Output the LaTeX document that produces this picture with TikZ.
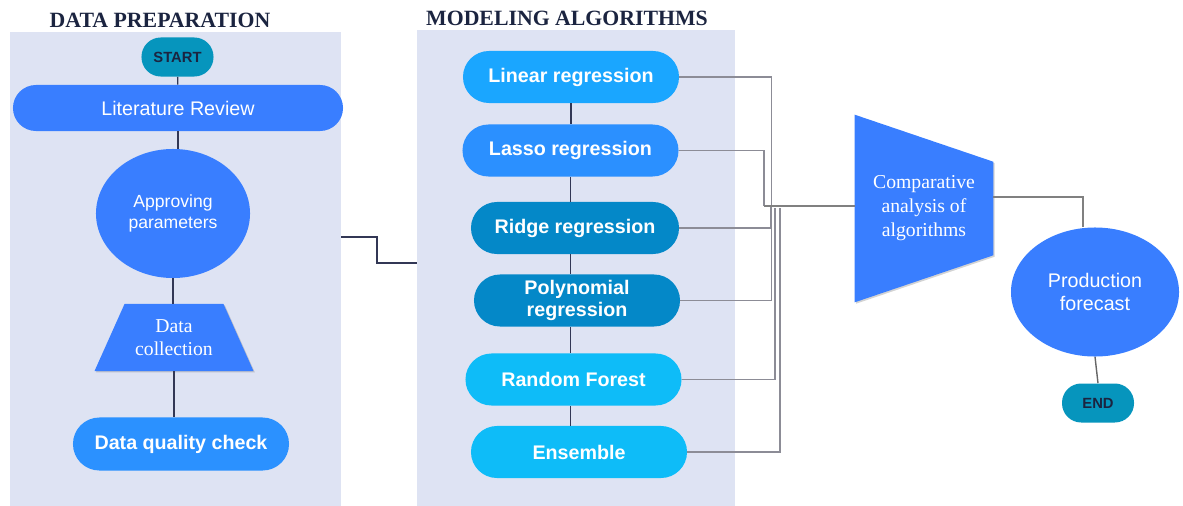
\documentclass[tikz,border=0pt]{standalone}
\usepackage{fontspec}
\setmainfont{Liberation Serif}
\setsansfont{Liberation Sans}
\usetikzlibrary{shapes.geometric, shadows, backgrounds}

\definecolor{panelbg}{RGB}{222,227,243}
\definecolor{mainblue}{RGB}{57,126,255}
\definecolor{checkblue}{RGB}{43,145,255}
\definecolor{linblue}{RGB}{26,166,255}
\definecolor{lasblue}{RGB}{43,144,255}
\definecolor{deepblue}{RGB}{4,136,200}
\definecolor{skyblue}{RGB}{14,188,248}
\definecolor{startc}{RGB}{6,149,189}
\definecolor{navy}{RGB}{27,36,64}
\definecolor{linkc}{RGB}{50,55,85}
\definecolor{feedc}{RGB}{140,140,150}

\tikzstyle{panel} = [rectangle, fill=panelbg, inner sep=0pt]
\tikzstyle{title} = [text=navy, font=\bfseries\fontsize{15.5}{18}\selectfont]
\tikzstyle{terminal} = [rectangle, rounded corners=0.48cm, minimum width=1.8cm, minimum height=0.975cm, fill=startc, text=navy, font=\sffamily\bfseries\fontsize{10.5}{12}\selectfont]
\tikzstyle{pill} = [rectangle, minimum height=1.3cm, rounded corners=0.65cm, text=white, align=center, font=\sffamily\bfseries\fontsize{14}{15.6}\selectfont]
\tikzstyle{bubble} = [ellipse, fill=mainblue, text=white, align=center, inner sep=0pt]
\tikzstyle{io} = [trapezium, trapezium left angle=60, trapezium right angle=60, trapezium stretches=true, minimum width=4cm, minimum height=1.675cm, fill=mainblue, text=white, align=center, font=\fontsize{14}{16.5}\selectfont, drop shadow={shadow xshift=1pt, shadow yshift=-1pt, opacity=.35}]
\tikzstyle{link} = [draw=linkc, line width=1pt]
\tikzstyle{feed} = [draw=feedc, line width=0.8pt]

\begin{document}
\begin{tikzpicture}[x=0.025cm, y=-0.025cm]
\useasboundingbox (0,0) rectangle (1183,506);

% panels
\node (prep) [panel, minimum width=8.275cm, minimum height=11.85cm] at (175.5,269) {};
\node (model) [panel, minimum width=7.95cm, minimum height=11.9cm] at (576,268) {};
\node [title] at (160,20) {DATA PREPARATION};
\node [title] at (567,18) {MODELING ALGORITHMS};

% data preparation
\node (start) [terminal] at (177.5,57) {START};
\node (lit) [pill, fill=mainblue, minimum width=8.25cm, minimum height=1.15cm, rounded corners=0.575cm, font=\sffamily\fontsize{14}{16}\selectfont] at (178,108) {Literature Review};
\node (app) [bubble, minimum width=3.85cm, minimum height=3.225cm, font=\sffamily\fontsize{12.5}{15}\selectfont] at (173,213.5) {Approving\\parameters};
\node (dc) [io] at (174,337.5) {Data\\collection};
\node (dqc) [pill, fill=checkblue, minimum width=5.4cm, minimum height=1.325cm, rounded corners=0.66cm] at (181,444) {Data quality check};

\draw [link] (start) -- (lit);
\draw [link] (lit.south) -- (lit.south |- app.north);
\draw [link] (app.south) -- (app.south |- dc.north);
\draw [link] (dc.south) -- (dc.south |- dqc.north);

% modeling algorithms
\node (lin) [pill, fill=linblue, minimum width=5.4cm] at (571,77) {Linear regression};
\node (las) [pill, fill=lasblue, minimum width=5.4cm] at (570.5,150.5) {Lasso regression};
\node (ridge) [pill, fill=deepblue, minimum width=5.2cm] at (575,228) {Ridge regression};
\node (poly) [pill, fill=deepblue, minimum width=5.15cm] at (577,300.5) {Polynomial\\regression};
\node (rf) [pill, fill=skyblue, minimum width=5.4cm] at (573.5,379.5) {Random Forest};
\node (ens) [pill, fill=skyblue, minimum width=5.4cm] at (579,452) {Ensemble};

\draw [link] (lin.south) -- (lin.south |- las.north);
\draw [link] (las.south) -- (las.south |- ridge.north);
\draw [link] (las.south |- ridge.south) -- (las.south |- poly.north);
\draw [link] (las.south |- poly.south) -- (las.south |- rf.north);
\draw [link] (las.south |- rf.south) -- (las.south |- ens.north);

\draw [link, line width=1.5pt] (prep.east |- 0,237) -- (377,237) |- (model.west |- 0,263);

% comparison and forecast
\node (cmp) [minimum width=3.45cm, minimum height=4.675cm, inner sep=0pt, align=center, text=white, font=\fontsize{14}{17}\selectfont] at (924,208.5) {Comparative\\analysis of\\algorithms};
\begin{scope}[on background layer]
\fill [mainblue, drop shadow={shadow xshift=1pt, shadow yshift=-1pt, opacity=.35}] (cmp.north west) -- ([yshift=-1.175cm]cmp.north east) -- ([yshift=1.175cm]cmp.south east) -- (cmp.south west) -- cycle;
\end{scope}
\node (pf) [bubble, minimum width=4.2cm, minimum height=3.225cm, font=\sffamily\fontsize{14}{17}\selectfont] at (1095,292) {Production\\forecast};
\node (end) [terminal] at (1098,403) {END};

\coordinate (hub) at (764,206);
\draw [feed] (lin.east) -| (771.7,206);
\draw [feed] (las.east) -| (hub);
\draw [feed] (ridge.east) -| (771,206);
\draw [feed] (poly.east) -| (771.3,206);
\draw [feed] (rf.east) -| (775,208);
\draw [feed] (ens.east) -| (780,208);
\draw [feed, line width=1.5pt, draw=gray] (hub) -- (hub -| cmp.west);

\draw [feed, draw=gray] (cmp.east |- 0,197) -| ([xshift=-12*0.025cm]pf.north);
\draw [link, draw=gray!80!black] (pf.south) -- (end.north);

\end{tikzpicture}
\end{document}
